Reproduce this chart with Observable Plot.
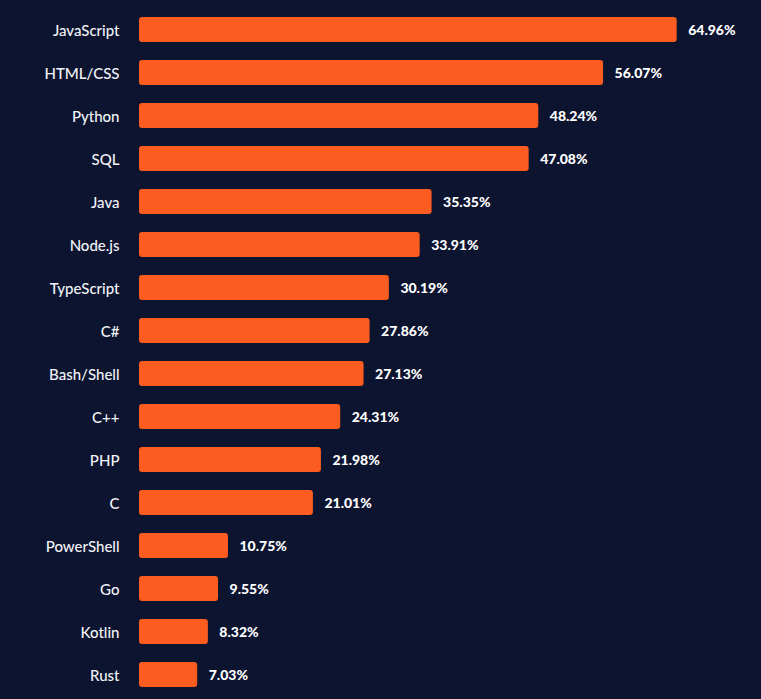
<!DOCTYPE html>
<html>
<head>
<meta charset="utf-8">
<script src="https://cdn.jsdelivr.net/npm/d3@7"></script>
<script src="https://cdn.jsdelivr.net/npm/@observablehq/plot@0.6"></script>
<style>
  html, body { margin: 0; padding: 0; background: #0c1430; }
  #chart svg { display: block; }
</style>
</head>
<body>
<div id="chart"></div>
<script>
// Most popular technologies: share of respondents (%)
const languages = [
  "JavaScript", "HTML/CSS", "Python", "SQL", "Java", "Node.js", "TypeScript",
  "C#", "Bash/Shell", "C++", "PHP", "C", "PowerShell", "Go", "Kotlin", "Rust"
];
const shares = [
  64.96, 56.07, 48.24, 47.08, 35.35, 33.91, 30.19,
  27.86, 27.13, 24.31, 21.98, 21.01, 10.75, 9.55, 8.32, 7.03
];

const rows = languages.map((lang, i) => ({ lang, share: shares[i] }));

const chart = Plot.plot({
  width: 761,
  height: 699,
  marginLeft: 139,
  marginRight: 84,
  marginTop: 17,
  marginBottom: 12,
  style: {
    background: "#0c1430",
    color: "#ffffff",
    fontFamily: "Lato, 'Open Sans', sans-serif"
  },
  x: { domain: [0, 65], axis: null },
  y: {
    domain: languages,
    paddingInner: 0.42,
    paddingOuter: 0,
    label: null,
    tickSize: 0,
    tickPadding: 20
  },
  marks: [
    Plot.barX(rows, {
      x: "share",
      y: "lang",
      fill: "#fc5c1f",
      rx: 3
    }),
    Plot.text(rows, {
      x: "share",
      y: "lang",
      text: d => d.share.toFixed(2) + "%",
      textAnchor: "start",
      dx: 11,
      dy: 1,
      fill: "#ffffff",
      fontWeight: 900,
      fontSize: 14
    })
  ]
});

const yAxis = chart.querySelector("g[aria-label='y-axis tick label']");
if (yAxis) {
  yAxis.setAttribute("font-size", 15);
  yAxis.setAttribute("font-weight", 500);
  yAxis.setAttribute("fill", "#f2f3f7");
  yAxis.setAttribute("transform", (yAxis.getAttribute("transform") || "") + " translate(0,1)");
}

document.getElementById("chart").appendChild(chart);
</script>
</body>
</html>
